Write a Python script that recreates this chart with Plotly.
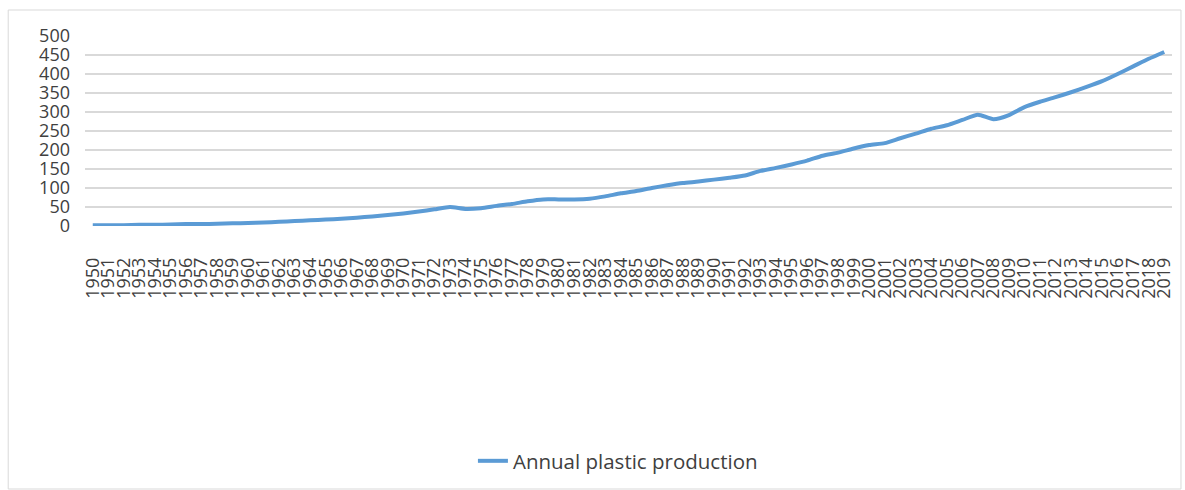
import plotly.graph_objects as go

# Global annual plastic production, million tonnes, 1950-2019
years = [str(y) for y in range(1950, 2020)]
production = [
    2, 2, 2, 3, 3, 4, 5, 5, 6, 7,
    8, 9, 11, 13, 15, 17, 19, 22, 25, 29,
    33, 38, 44, 50, 45, 47, 53, 58, 65, 70,
    70, 70, 72, 78, 86, 92, 100, 107, 113, 117,
    122, 127, 133, 145, 153, 162, 172, 185, 193, 204,
    213, 218, 231, 243, 256, 265, 279, 293, 281, 292,
    313, 327, 339, 352, 366, 381, 400, 420, 440, 458,
]
y_ticks = [0, 50, 100, 150, 200, 250, 300, 350, 400, 450, 500]
series_name = "Annual plastic production"

W, H = 1185, 490
L, R, T, B = 85, 10, 36, 264
plot_w = W - L - R
plot_h = H - T - B

FONT = "Open Sans"
TEXT = "#404040"
GRID = "#d9d9d9"
BLUE = "#5b9bd5"

fig = go.Figure()
fig.add_trace(go.Scatter(
    x=years, y=production, mode="lines", name=series_name,
    line=dict(color=BLUE, width=4, shape="spline", smoothing=0.6),
))


def px_x(px):
    return (px - L) / plot_w


def px_y(py):
    return (H - B - py) / plot_h


# light frame around the chart area
fig.add_shape(type="rect", xref="paper", yref="paper",
              x0=px_x(8), x1=px_x(1184), y0=px_y(489), y1=px_y(10),
              line=dict(color="#d9d9d9", width=1), fillcolor="rgba(0,0,0,0)",
              layer="below")

fig.update_layout(
    width=W, height=H,
    margin=dict(l=L, r=R, t=T, b=B),
    paper_bgcolor="white", plot_bgcolor="white",
    font=dict(family=FONT, size=18, color=TEXT),
    showlegend=True,
    legend=dict(orientation="h", x=px_x(474), xanchor="left",
                y=px_y(461), yanchor="middle",
                font=dict(family=FONT, size=20.5, color=TEXT),
                bgcolor="rgba(0,0,0,0)"),
    xaxis=dict(type="category", tickmode="linear", dtick=1, tick0=0,
               range=[-0.5, len(years) - 0.5], tickangle=-90,
               showgrid=False, zeroline=False, showline=False,
               ticks="", ticklabelstandoff=27,
               tickfont=dict(family=FONT, size=18, color=TEXT)),
    yaxis=dict(range=[0, 500], tickmode="array", tickvals=y_ticks,
               ticktext=[str(v) for v in y_ticks],
               showgrid=True, gridcolor=GRID, gridwidth=1.5,
               zeroline=False, showline=False, ticks="",
               ticklabelstandoff=14,
               tickfont=dict(family=FONT, size=18, color=TEXT)),
)

fig.write_html("out.html")
